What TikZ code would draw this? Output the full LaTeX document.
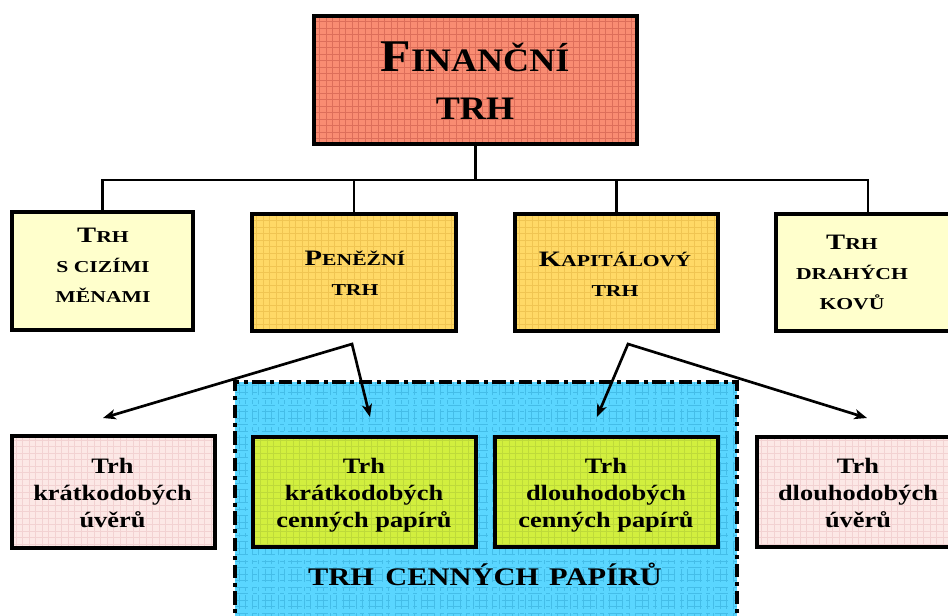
\documentclass[tikz,border=0pt]{standalone}
\usepackage{fontspec}
\setmainfont{Liberation Serif}
\newfontfamily\fA{Liberation Serif}[FakeStretch=1.1]
\newfontfamily\fB{Liberation Serif}[FakeStretch=1.3]
\newfontfamily\fC{Liberation Serif}[FakeStretch=1.2]
\usetikzlibrary{arrows.meta}
\newdimen\px \px=0.75pt
\definecolor{salmon}{HTML}{F98C72}
\definecolor{salmongrid}{HTML}{DD6E5A}
\definecolor{lightyel}{HTML}{FFFFCC}
\definecolor{orangeyel}{HTML}{FFD966}
\definecolor{orangegrid}{HTML}{F0C552}
\definecolor{pinkbox}{HTML}{FCE8E6}
\definecolor{pinkgrid}{HTML}{F2D2D2}
\definecolor{greenbox}{HTML}{D2EF3E}
\definecolor{greengrid}{HTML}{BEDA3A}
\definecolor{bluebox}{HTML}{5AD6FF}
\definecolor{bluegrid}{HTML}{44BDE8}
\newcommand\bigA[1]{{\fontsize{34pt}{36pt}\selectfont #1}}
\newcommand\bigB[1]{{\fontsize{16.5pt}{22.5pt}\selectfont #1}}
\tikzset{
  gridfill/.style 2 args={fill=#1, path picture={\draw[#2, line width=0.45pt]
    (path picture bounding box.south west) grid[step=4.875pt] (path picture bounding box.north east);}},
  box/.style={draw=black, line width=2.6pt, inner sep=0pt, outer sep=0pt},
  txtA/.style={align=center, inner sep=0pt, font=\fA\bfseries\fontsize{24.6pt}{36pt}\selectfont},
  txtB/.style={align=center, inner sep=0pt, font=\fB\bfseries\fontsize{12.5pt}{22.5pt}\selectfont},
  txtC/.style={align=center, inner sep=0pt, font=\fC\bfseries\fontsize{16.5pt}{20.25pt}\selectfont},
  conn/.style={draw=black, line width=1.6pt},
  arr/.style={draw=black, line width=2pt, {Stealth[length=9.5pt,width=7.5pt,inset=2.5pt]}-{Stealth[length=9.5pt,width=7.5pt,inset=2.5pt]}},
  region/.style={draw=black, line width=3pt, dash pattern=on 10pt off 3.5pt on 3pt off 3.5pt, inner sep=0pt, outer sep=0pt}
}
\begin{document}
\begin{tikzpicture}[x=0.75pt,y=-0.75pt]
\useasboundingbox (0,0) rectangle (948,616);
\clip (0,0) rectangle (948,616);
\fill[white] (0,0) rectangle (948,616);

% region of securities market
\node[region, gridfill={bluebox}{bluegrid}, minimum width=502\px, minimum height=280\px] (tcp) at (486,522) {};
\node[anchor=base, inner sep=0pt, font=\fC\bfseries\fontsize{19pt}{19pt}\selectfont] (tcplabel) at (485,585) {TRH\hspace{0.45em}CENNÝCH\hspace{0.4em}PAPÍRŮ};

% top
\node[box, line width=3pt, gridfill={salmon}{salmongrid}, minimum width=323\px, minimum height=128\px] (fin) at (475.5,80) {};
\node[txtA] (fintxt) at (475,81) {\bigA{F}INANČNÍ\\TRH};

% row 2
\node[box, fill=lightyel, minimum width=181\px, minimum height=118\px] (b1) at (102.5,271) {};
\node[txtB] (b1txt) at (103,265) {\bigB{T}RH\\S CIZÍMI\\MĚNAMI};
\node[box, gridfill={orangeyel}{orangegrid}, minimum width=204\px, minimum height=117\px] (b2) at (354,272.5) {};
\node[txtB] (b2txt) at (355,273) {\bigB{P}ENĚŽNÍ\\TRH};
\node[box, gridfill={orangeyel}{orangegrid}, minimum width=203\px, minimum height=117\px] (b3) at (616.5,272.5) {};
\node[txtB] (b3txt) at (615,274) {\bigB{K}APITÁLOVÝ\\TRH};
\node[box, fill=lightyel, minimum width=184\px, minimum height=117\px] (b4) at (868,272.5) {};
\node[txtB] (b4txt) at (852,272) {\bigB{T}RH\\DRAHÝCH\\KOVŮ};

% row 3
\node[box, gridfill={pinkbox}{pinkgrid}, minimum width=203\px, minimum height=112\px] (b5) at (113.5,492) {};
\node[txtC] (b5txt) at (112.5,493) {Trh\\krátkodobých\\úvěrů};
\node[box, line width=3pt, gridfill={greenbox}{greengrid}, minimum width=223\px, minimum height=110\px] (b6) at (364.5,492) {};
\node[txtC] (b6txt) at (364,495.5) {Trh\\krátkodobých\\cenných papírů};
\node[box, line width=3pt, gridfill={greenbox}{greengrid}, minimum width=223\px, minimum height=110\px] (b7) at (606.5,492) {};
\node[txtC] (b7txt) at (606,495.5) {Trh\\dlouhodobých\\cenných papírů};
\node[box, gridfill={pinkbox}{pinkgrid}, minimum width=203\px, minimum height=110\px] (b8) at (858.5,492) {};
\node[txtC] (b8txt) at (858,493) {Trh\\dlouhodobých\\úvěrů};

% tree connectors
\coordinate (bus) at (476,180);
\draw[conn] (fin.south) -- (fin.south |- bus);
\draw[conn] (b1.north) -- (b1.north |- bus) -- (b4.north |- bus) -- (b4.north);
\draw[conn] (b2.north) -- (b2.north |- bus);
\draw[conn] (b3.north) -- (b3.north |- bus);

% arrows
\coordinate (sA) at (352,344);
\coordinate (sB) at (628,344);
\coordinate (tA1) at (103,418);
\coordinate (tA2) at (370,417);
\coordinate (tB1) at (597,417);
\coordinate (tB2) at (867,418);
\draw[arr] (tA1) -- (sA) -- (tA2);
\draw[arr] (tB1) -- (sB) -- (tB2);
\end{tikzpicture}
\end{document}
